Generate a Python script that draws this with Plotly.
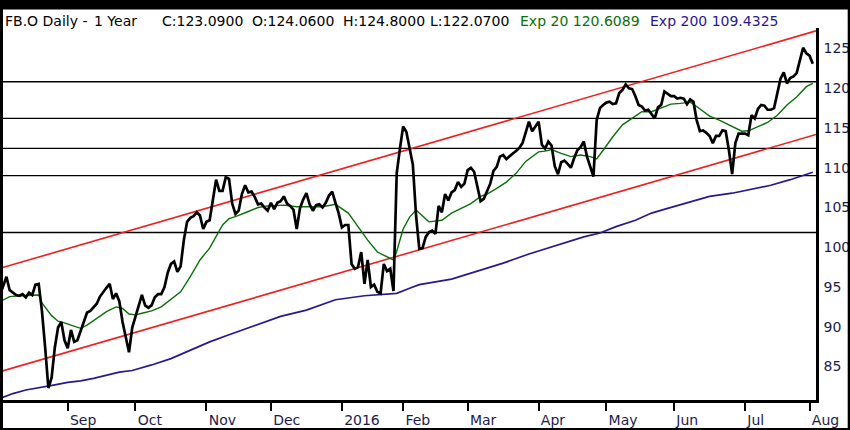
import plotly.graph_objects as go
import pandas as pd

# ---------------- data ----------------
first_day = "2015-08-03"
last_day = "2016-08-02"
holidays = ["2015-09-07", "2015-11-26", "2015-12-25", "2016-01-01", "2016-01-18",
            "2016-02-15", "2016-03-25", "2016-05-30", "2016-07-04"]

close = [
    94.0, 95.2, 96.3, 94.6, 94.3, 94.0, 93.9, 94.1, 93.7, 94.3,
    94.0, 95.3, 95.4, 92.0, 87.4, 82.3, 83.6, 87.4, 89.9, 90.6,
    88.3, 87.3, 89.6, 88.1, 88.3, 89.4, 90.6, 91.8, 92.0, 92.4,
    92.9, 93.8, 94.4, 94.9, 95.4, 93.5, 94.2, 93.2, 90.6, 88.6,
    86.8, 89.9, 91.2, 92.8, 94.0, 92.7, 92.4, 92.7, 93.7, 94.1,
    94.1, 95.0, 96.8, 97.9, 98.2, 96.9, 97.6, 100.9, 103.2, 103.7,
    103.9, 104.4, 104.0, 102.3, 103.2, 103.4, 105.7, 108.5, 107.1, 107.1,
    108.8, 108.6, 105.5, 104.2, 104.6, 106.7, 107.8, 106.9, 107.0, 106.3,
    105.4, 105.5, 105.0, 104.6, 105.6, 104.8, 105.6, 105.8, 106.4, 105.5,
    105.2, 104.7, 102.3, 104.9, 106.0, 106.8, 105.4, 104.6, 105.3, 105.4,
    105.0, 105.6, 106.5, 107.0, 105.6, 104.3, 102.5, 102.8, 102.8, 97.9,
    97.3, 97.5, 99.4, 95.4, 98.4, 95.0, 95.3, 94.4, 94.2, 97.9,
    97.0, 97.3, 94.5, 109.3, 112.4, 115.2, 114.5, 112.6, 110.4, 104.0,
    99.8, 99.9, 101.3, 101.9, 102.1, 101.7, 105.2, 104.4, 106.7, 105.9,
    106.9, 107.2, 108.2, 107.6, 108.0, 109.7, 110.0, 109.5, 107.5, 105.8,
    106.1, 107.1, 108.0, 109.6, 110.1, 111.4, 111.6, 111.1, 111.5, 111.8,
    112.1, 112.5, 113.1, 114.5, 115.8, 114.6, 115.2, 115.8, 112.9, 112.4,
    113.3, 112.8, 110.2, 109.2, 110.7, 110.9, 110.5, 110.0, 111.2, 112.2,
    112.6, 113.3, 111.4, 110.1, 108.9, 116.0, 117.5, 117.9, 118.2, 118.3,
    118.0, 118.1, 119.4, 119.8, 120.5, 120.0, 119.9, 119.0, 117.9, 117.7,
    117.2, 117.3, 116.8, 116.2, 117.6, 117.9, 119.6, 119.3, 119.0, 119.0,
    118.7, 118.8, 118.7, 118.0, 118.6, 118.3, 116.0, 114.6, 114.7, 114.4,
    114.0, 113.1, 114.0, 114.0, 114.7, 114.6, 112.2, 109.2, 113.1, 114.3,
    114.3, 114.3, 114.1, 116.6, 116.2, 117.4, 117.9, 117.8, 117.3, 117.3,
    117.5, 119.6, 121.2, 122.0, 120.6, 121.3, 121.5, 121.9, 123.5, 125.1,
    124.4, 124.1, 123.09,
]

ema20_day = [0, 3, 6, 10, 12, 13, 16, 18, 20, 22, 25, 27, 30, 33, 36, 38, 40, 42,
             44, 47, 50, 53, 56, 59, 62, 65, 67, 69, 71, 73, 77, 80, 83, 86, 88,
             92, 96, 100, 104, 108, 111, 114, 117, 120, 122, 123, 124, 125, 127,
             129, 130, 133, 137, 140, 143, 146, 149, 151, 154, 157, 160, 163, 167,
             169, 171, 173, 174, 177, 180, 183, 185, 187, 190, 193, 197, 199, 202,
             205, 208, 211, 214, 216, 217, 220, 223, 227, 230, 232, 235, 238, 241,
             244, 247, 250, 252]
ema20 = [93.15, 93.8, 93.9, 94.0, 94.0, 93.0, 91.4, 90.7, 90.5, 90.2, 89.8, 90.2,
         91.05, 91.9, 92.5, 92.3, 91.6, 91.5, 91.7, 92.0, 92.5, 93.4, 94.4, 96.3,
         98.4, 99.9, 101.3, 102.8, 103.6, 103.85, 104.5, 105.0, 105.2, 105.3,
         105.3, 105.1, 105.1, 105.1, 105.4, 104.3, 102.6, 100.9, 99.4, 98.8,
         98.4, 99.5, 100.9, 102.3, 103.8, 104.7, 104.3, 103.2, 103.4, 104.3,
         104.9, 105.5, 106.4, 106.7, 107.4, 108.2, 109.3, 110.8, 112.0, 112.1,
         112.3, 111.9, 111.8, 111.4, 111.6, 111.4, 111.1, 112.2, 113.9, 115.4,
         116.5, 117.05, 117.05, 117.5, 118.0, 118.1, 118.25, 117.7, 117.4, 116.5,
         116.0, 115.2, 114.6, 114.65, 115.2, 115.7, 116.6, 117.9, 118.9, 120.2,
         120.6089]

ema200_day = [0, 4, 8, 12, 17, 21, 25, 29, 33, 37, 41, 47, 53, 59, 65, 71, 78,
              84, 87, 95, 104, 113, 120, 123, 127, 130, 140, 148, 156, 164, 173,
              181, 186, 191, 197, 202, 207, 212, 216, 220, 227, 233, 239, 245, 252]
ema200 = [81.0, 81.6, 82.05, 82.3, 82.7, 83.0, 83.2, 83.5, 83.9, 84.3, 84.5, 85.2,
          86.0, 87.1, 88.1, 89.0, 90.0, 90.85, 91.3, 92.1, 93.4, 93.9, 94.1, 94.2,
          94.85, 95.3, 96.0, 97.05, 98.0, 99.15, 100.3, 101.3, 101.8, 102.6, 103.4,
          104.3, 104.9, 105.5, 105.9, 106.4, 106.8, 107.3, 107.8, 108.5, 109.4325]

channel_day = [0, 253]
channel_upper = [97.35, 127.22]
channel_lower = [84.35, 114.18]

levels = [120.82, 116.22, 112.45, 109.0, 101.86]

month_labels = ["Sep", "Oct", "Nov", "Dec", "2016", "Feb", "Mar", "Apr",
                "May", "Jun", "Jul", "Aug"]
y_ticks = [85, 90, 95, 100, 105, 110, 115, 120, 125]

last_open, last_high, last_low = 124.06, 124.80, 122.07
ema20_last, ema200_last = 120.6089, 109.4325

# ---------------- derived axes ----------------
bd = pd.bdate_range(first_day, last_day)
dates = [d for d in bd if d.strftime("%Y-%m-%d") not in holidays]
n = min(len(dates), len(close))
xs = list(range(n))
month_starts = [i for i in range(1, len(dates)) if dates[i].month != dates[i - 1].month]

# ---------------- figure ----------------
W, H = 850, 430
ML, MR, MT, MB = 0, 34, 28, 30
PW, PH = W - ML - MR, H - MT - MB


def px(v):
    return (v - ML) / PW


def py(v):
    return (H - MB - v) / PH


FONT = "DejaVu Sans"
NAVY_TXT = "#1c1c4c"
GREEN = "#0a700a"
NAVY = "#2a1890"
RED = "#f01e1e"

fig = go.Figure()
fig.add_trace(go.Scatter(x=channel_day, y=channel_upper, mode="lines",
                         line=dict(color=RED, width=1.6), hoverinfo="skip"))
fig.add_trace(go.Scatter(x=channel_day, y=channel_lower, mode="lines",
                         line=dict(color=RED, width=1.6), hoverinfo="skip"))
fig.add_trace(go.Scatter(x=ema200_day, y=ema200, mode="lines",
                         line=dict(color=NAVY, width=1.7)))
fig.add_trace(go.Scatter(x=ema20_day, y=ema20, mode="lines",
                         line=dict(color=GREEN, width=1.4)))
fig.add_trace(go.Scatter(x=xs, y=close[:n], mode="lines",
                         line=dict(color="black", width=2.7)))

shapes = []
for lv in levels:
    shapes.append(dict(type="line", xref="paper", yref="y", x0=0, x1=1, y0=lv, y1=lv,
                       line=dict(color="black", width=1.3), layer="below"))
# outer black frame
frame = [(-5, 855, -5, 9.5), (-5, 3, -5, 435), (847.7, 855, -5, 435), (-5, 855, 428, 435)]
for x0, x1, y0, y1 in frame:
    shapes.append(dict(type="rect", xref="paper", yref="paper",
                       x0=px(x0), x1=px(x1), y0=py(y1), y1=py(y0),
                       fillcolor="black", line=dict(width=0), layer="above"))

title_parts = [
    (4, "FB.O Daily -", "black"),
    (93, "1 Year", "black"),
    (161, "C:%.4f" % close[n - 1], "black"),
    (251, "O:%.4f" % last_open, "black"),
    (342, "H:%.4f" % last_high, "black"),
    (429, "L:%.4f" % last_low, "black"),
    (519, "Exp 20 %.4f" % ema20_last, GREEN),
    (649, "Exp 200 %.4f" % ema200_last, NAVY),
]
annotations = []
for xp, txt, col in title_parts:
    annotations.append(dict(text=txt, xref="paper", yref="paper", x=px(xp), y=py(21.5),
                            xanchor="left", yanchor="middle", showarrow=False,
                            borderpad=0, font=dict(family=FONT, size=14, color=col)))

fig.update_layout(
    width=W, height=H,
    margin=dict(l=ML, r=MR, t=MT, b=MB),
    paper_bgcolor="white", plot_bgcolor="white",
    showlegend=False,
    shapes=shapes, annotations=annotations,
    xaxis=dict(range=[0, 253], showgrid=False, zeroline=False,
               showline=True, linecolor="black", linewidth=2.5,
               ticks="outside", ticklen=8, tickwidth=2, tickcolor="black",
               tickvals=month_starts, ticktext=month_labels,
               ticklabelposition="outside right", ticklabelstandoff=5,
               tickfont=dict(family=FONT, size=14, color=NAVY_TXT)),
    yaxis=dict(range=[80.79, 127.58], side="right", showgrid=False, zeroline=False,
               showline=True, linecolor="black", linewidth=2.5,
               ticks="", tickvals=y_ticks, ticklabelstandoff=2,
               tickfont=dict(family=FONT, size=14, color=NAVY_TXT)),
)

fig.write_html("out.html", config={"displayModeBar": False},
               post_script="document.body.style.margin='0';document.body.style.overflow='hidden';")
